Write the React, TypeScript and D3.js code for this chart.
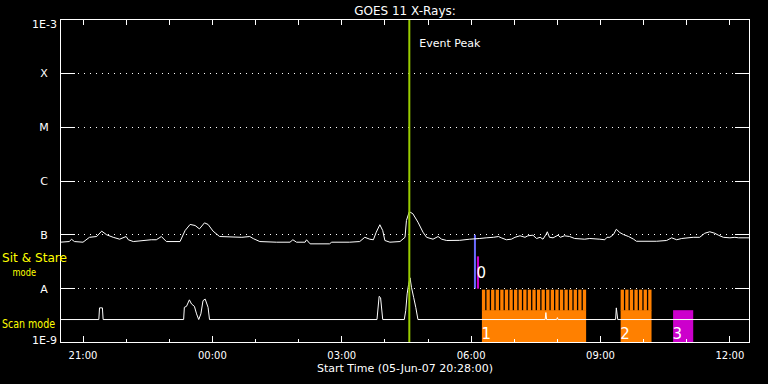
import React from 'react';
import * as d3 from 'd3';

// ---- data ----
const START = new Date(Date.UTC(2007, 5, 5, 20, 28, 0));
const END = new Date(Date.UTC(2007, 5, 6, 12, 28, 0));

// GOES long channel (1-8 A), minutes after start, flux in 1e-8 W/m^2
const longMin = [0,13,16,20,32,41,51,58,65,74,83,92,95,102,127,134,141,148,167,174,181,188,194,201,206,213,222,253,264,269,278,301,320,324,329,341,343,348,375,378,403,417,424,431,436,440,445,449,452,459,473,480,482,486,491,498,505,510,519,526,531,538,556,570,584,593,603,610,614,621,628,633,640,647,651,658,663,668,672,676,678,681,686,693,696,702,709,716,730,737,751,758,761,765,770,774,779,784,791,798,802,830,844,851,858,865,881,890,897,904,911,916,923,932,939,944,960];
const longFlux8 = [7.3,7.5,8.3,7.5,7.3,9.0,9.3,11.7,10.0,9.0,8.3,9.3,8.1,7.5,8.1,8.1,9.3,7.5,7.5,12,15.6,14.9,12.9,16.7,15.6,11.7,9.3,9.0,9.3,8.5,7.5,7.3,7.3,8.1,7.3,7.3,8.1,6.8,6.8,7.3,7.3,7.5,9.0,8.3,8.1,11.2,15.4,12,7.85,7.3,7.5,9.0,18.5,27,24.6,17.2,11.2,9.0,8.3,9.3,8.3,7.85,7.9,8.3,8.55,8.8,9.0,9.3,8.8,8.1,8.3,9.0,9.6,9.0,9.6,9.85,8.55,9.0,8.3,10.1,11.4,9.0,8.8,9.85,9.0,9.6,9.3,8.55,8.3,8.55,8.3,8.1,9.0,9.0,10.1,12.7,11.0,10.1,9.3,8.3,7.6,7.6,7.85,8.8,8.1,8.55,9.0,9.0,10.7,11.4,10.7,9.85,9.0,8.8,9.0,8.8,8.8];

// GOES short channel (0.5-4 A), minutes after start, flux in 1e-9 W/m^2
const shortMin = [0,54,55,59,60,172,173,176,180,183,187,190,193,196,199,202,206,208,441,444,446,449,479,481,483,485,487,489,492,495,498,675,676,677,691,692,693,773,774,776,960];
const shortFlux9 = [2.67,2.67,4.4,4.4,2.67,2.67,4.5,4.7,6.2,5.2,4.7,3.4,2.67,3.4,6.0,6.4,4.5,2.67,2.67,7.2,6.8,2.67,2.67,3.9,8.0,12,15.9,10.6,6.9,4.5,2.67,2.67,3.6,2.67,2.67,2.9,2.67,2.67,4.4,2.67,2.67];

const levelValues = [1e-9, 1e-8, 1e-7, 1e-6, 1e-5, 1e-4, 1e-3];
const levelLabels = ['1E-9', 'A', 'B', 'C', 'M', 'X', '1E-3'];

const eventPeakTime = '2007-06-06T04:34:00Z';
const markerTime = '2007-06-06T06:06:00Z';

const studyLabels = ['0', '1', '2', '3'];
const studyMode = ['stare', 'scan', 'scan', 'scan'];
const studyStart = ['2007-06-06T06:08:00Z', '2007-06-06T06:15:00Z', '2007-06-06T09:28:00Z', '2007-06-06T10:41:00Z'];
const studyEnd = ['2007-06-06T06:11:00Z', '2007-06-06T08:40:00Z', '2007-06-06T10:11:00Z', '2007-06-06T11:09:00Z'];
const studySteps = [0, 23, 7, 0];
const studyColors = ['#cc00cc', '#ff8000', '#ff8000', '#cc00cc'];

const FONT = '"DejaVu Sans", sans-serif';

export default function App() {
  const W = 768, H = 384;
  const left = 60, right = 750, top = 19, bottom = 342;
  const x = d3.scaleUtc().domain([START, END]).range([left, right]);
  const y = d3.scaleLog().domain([1e-9, 1e-3]).range([342.5, 19.5]);
  const tAt = (m: number) => new Date(START.getTime() + m * 60000);

  const longPts: [number, number][] = longMin.map((m, i) => [m, longFlux8[i] * 1e-8]);
  const shortPts: [number, number][] = shortMin.map((m, i) => [m, shortFlux9[i] * 1e-9]);
  const line = d3.line<[number, number]>().x(d => x(tAt(d[0]))).y(d => y(d[1]));

  const hourTicks = x.ticks(d3.utcHour.every(1) as any);
  const fmt = d3.utcFormat('%H:%M');
  const crisp = (v: number) => Math.floor(v) + 0.5;

  const yA = y(1e-8), yB = y(1e-7), yBot = y(1e-9);
  const solidTop = yBot - 0.6 * (yBot - yA);
  const stareTop = yA - 0.6 * (yA - yB);
  const ex = x(new Date(eventPeakTime));
  const mx = x(new Date(markerTime));

  const studies = studyLabels.map((lab, i) => {
    const x0 = x(new Date(studyStart[i]));
    const x1 = x(new Date(studyEnd[i]));
    const els: any[] = [];
    if (studyMode[i] === 'scan') {
      els.push(<rect key={'b' + i} x={x0} y={solidTop} width={x1 - x0} height={yBot - solidTop} fill={studyColors[i]} />);
      const n = studySteps[i];
      if (n > 0) {
        const gap = 1.3;
        const tw = (x1 - x0 - (n - 1) * gap) / n;
        for (let k = 0; k < n; k++) {
          els.push(<rect key={'t' + i + '_' + k} x={x0 + k * (tw + gap)} y={yA + 1} width={tw} height={solidTop - yA - 0.5} fill={studyColors[i]} />);
        }
      }
    } else {
      els.push(<rect key={'s' + i} x={x0} y={stareTop} width={Math.max(2, x1 - x0)} height={yA - stareTop} fill={studyColors[i]} />);
    }
    return { els, x0, mode: studyMode[i], lab };
  });

  return (
    <svg width={W} height={H} style={{ position: 'absolute', left: 0, top: 0, background: '#000' }} fontFamily={FONT}>
      <rect x={0} y={0} width={W} height={H} fill="#000" />
      {studies.map(s => s.els)}
      <rect x={mx - 1.5} y={yB} width={2} height={yA - yB} fill="#6a6aff" />
      {/* grid */}
      {levelValues.slice(1, -1).map((v, i) => (
        <g key={'g' + i} shapeRendering="crispEdges">
          <line x1={left} x2={right} y1={crisp(y(v))} y2={crisp(y(v))} stroke="#fff" strokeDasharray="1 5" />
          <line x1={left} x2={left + 15} y1={crisp(y(v))} y2={crisp(y(v))} stroke="#fff" />
          <line x1={right - 15} x2={right} y1={crisp(y(v))} y2={crisp(y(v))} stroke="#fff" />
        </g>
      ))}
      <clipPath id="plotclip"><rect x={left} y={top} width={right - left} height={bottom - top} /></clipPath>
      <g clipPath="url(#plotclip)">
        <path d={line(shortPts) || ''} fill="none" stroke="#fff" strokeWidth={1} />
        <path d={line(longPts) || ''} fill="none" stroke="#fff" strokeWidth={1} />
      </g>
      <line x1={ex} x2={ex} y1={top} y2={bottom} stroke="#99cc00" strokeWidth={2} />
      {/* box and ticks */}
      <rect x={left + 0.5} y={top + 0.5} width={right - left - 1} height={bottom - top} fill="none" stroke="#fff" shapeRendering="crispEdges" />
      {hourTicks.map((t, i) => {
        const major = t.getUTCHours() % 3 === 0;
        const xx = crisp(x(t));
        return (
          <g key={'xt' + i} shapeRendering="crispEdges">
            <line x1={xx} x2={xx} y1={bottom} y2={bottom - (major ? 6 : 3)} stroke="#fff" />
            <line x1={xx} x2={xx} y1={top} y2={top + 6} stroke="#fff" />
            {major && (
              <text x={x(t)} y={359} fill="#fff" fontSize={10} textAnchor="middle">{fmt(t)}</text>
            )}
          </g>
        );
      })}
      {levelValues.map((v, i) => {
        const lab = levelLabels[i];
        const long = lab.length > 1;
        let yy = y(v) + 4;
        if (i === 0) yy = y(v) + 1;
        if (i === levelValues.length - 1) yy = y(v) + 8;
        return (
          <text key={'yl' + i} x={long ? 57 : 44} y={yy} fill="#fff" fontSize={11} textAnchor={long ? 'end' : 'middle'}>{lab}</text>
        );
      })}
      <text x={405} y={15} fill="#fff" fontSize={12} textAnchor="middle">GOES 11 X-Rays:</text>
      <text x={ex + 10} y={47} fill="#fff" fontSize={11}>Event Peak</text>
      <text x={405} y={371.5} fill="#fff" fontSize={11} textAnchor="middle">Start Time (05-Jun-07 20:28:00)</text>
      <text x={2} y={261.5} fill="#ffff00" fontSize={12} textLength={65} lengthAdjust="spacingAndGlyphs">Sit &amp; Stare</text>
      <text x={12.5} y={276} fill="#ffff00" fontSize={11} textLength={23.5} lengthAdjust="spacingAndGlyphs">mode</text>
      <text x={2} y={328} fill="#ffff00" fontSize={12} textLength={53} lengthAdjust="spacingAndGlyphs">Scan mode</text>
      {studies.map((s, i) => (
        <text key={'sl' + i} x={s.x0 - 0.5} y={s.mode === 'scan' ? 339 : 278} fill="#fff" fontSize={15}>{s.lab}</text>
      ))}
    </svg>
  );
}
